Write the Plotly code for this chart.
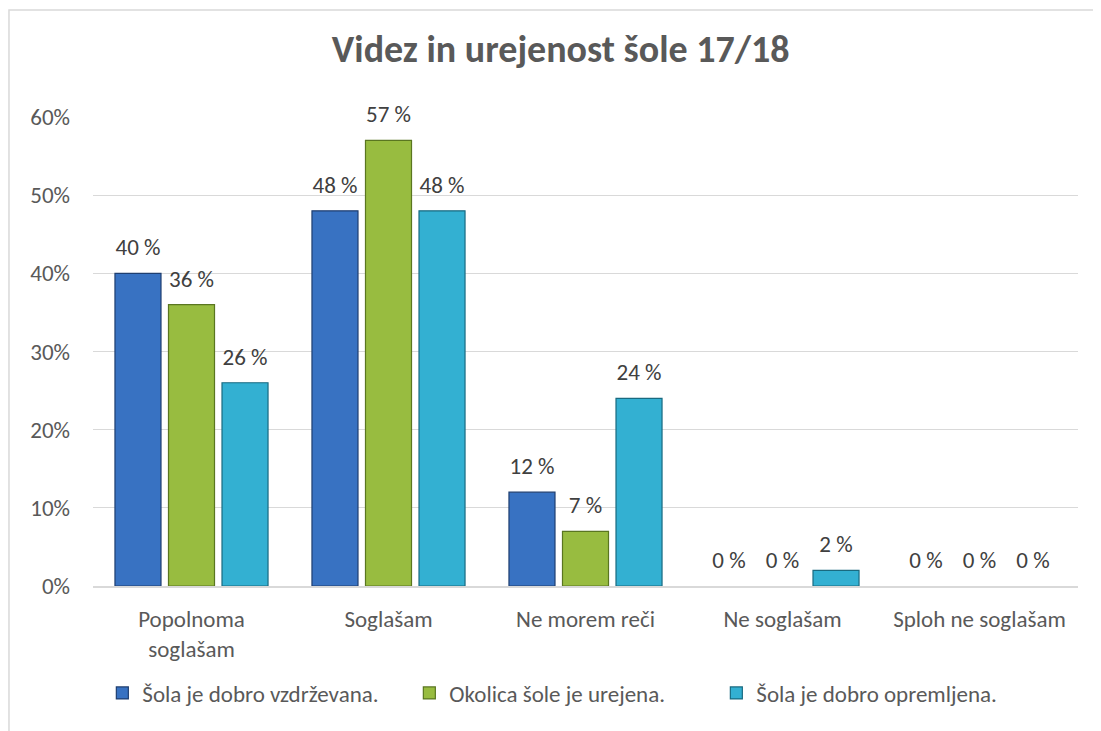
import plotly.graph_objects as go

categories = ["Popolnoma<br>soglašam", "Soglašam", "Ne morem reči", "Ne soglašam", "Sploh ne soglašam"]
series_names = ["Šola je dobro vzdrževana.", "Okolica šole je urejena.", "Šola je dobro opremljena."]
vzdrzevana = [40, 48, 12, 0, 0]
okolica = [36, 57, 7, 0, 0]
opremljena = [26, 48, 24, 2, 0]
y_ticks = [0, 10, 20, 30, 40, 50, 60]

series_values = [vzdrzevana, okolica, opremljena]
fills = ["#3872C2", "#98BC40", "#33B0D2"]
outlines = ["#1E3E70", "#5A7620", "#196A80"]

FONT = "Carlito, Lato, 'Open Sans', sans-serif"
TXT = "#595959"
FS = 23

fig = go.Figure()
for i, (name, vals, fc, lc) in enumerate(zip(series_names, series_values, fills, outlines)):
    fig.add_trace(go.Bar(
        x=categories,
        y=[v / 100 for v in vals],
        name=name,
        offsetgroup=str(i),
        marker=dict(color=fc, line=dict(color=lc, width=[1.2 if v > 0 else 0 for v in vals])),
    ))
for i, vals in enumerate(series_values):
    fig.add_trace(go.Scatter(
        x=categories,
        y=[v / 100 for v in vals],
        mode="markers+text",
        offsetgroup=str(i),
        text=[f"{v} %" for v in vals],
        textposition="top center",
        textfont=dict(family=FONT, size=FS, color="#404040"),
        marker=dict(size=18, opacity=0),
        cliponaxis=False,
        showlegend=False,
        hoverinfo="skip",
    ))

fig.update_layout(
    width=1101, height=731,
    margin=dict(l=85, r=31, t=109, b=153),
    paper_bgcolor="white", plot_bgcolor="white",
    barmode="group", bargap=0.185, bargroupgap=0.14,
    scattermode="group", scattergap=0.185,
    title=dict(text="<b>Videz in urejenost šole 17/18</b>", x=0.502, xanchor="center",
               y=0.945, yanchor="middle",
               font=dict(family=FONT, size=38, color=TXT)),
    font=dict(family=FONT, size=FS, color=TXT),
    showlegend=True,
    legend=dict(orientation="h", x=0.477, xanchor="center", y=-0.228, yanchor="middle",
                font=dict(family=FONT, size=FS, color=TXT), traceorder="normal",
                entrywidth=262, entrywidthmode="pixels"),
    shapes=[dict(type="rect", xref="paper", yref="paper", x0=-0.0853, x1=1.05, y0=-0.4, y1=1.228,
                 line=dict(color="#D9D9D9", width=1.5), fillcolor="rgba(0,0,0,0)", layer="below")],
)
fig.update_yaxes(range=[0, 0.6], tickvals=[t / 100 for t in y_ticks], tickformat=".0%",
                 showgrid=True, gridcolor="#D9D9D9", gridwidth=1.2, zeroline=False,
                 showline=False, ticklabelstandoff=22,
                 tickfont=dict(family=FONT, size=FS, color=TXT))
fig.update_xaxes(showline=True, linecolor="#D9D9D9", linewidth=1.5, showgrid=False,
                 ticklabelstandoff=12, tickfont=dict(family=FONT, size=FS, color=TXT))

fig.write_html("out.html")
